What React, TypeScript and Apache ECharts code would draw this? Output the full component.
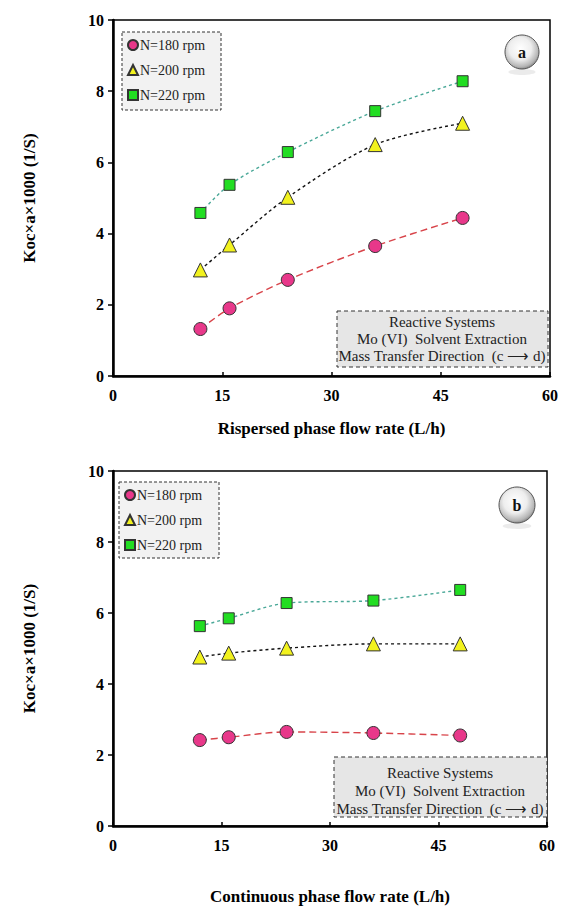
import React, { useEffect, useRef } from "react";
import * as echarts from "echarts";

const X_VALUES = [12, 16, 24, 36, 48];
const SERIES_NAMES = ["N=180 rpm", "N=200 rpm", "N=220 rpm"];
const A_180 = [1.32, 1.9, 2.7, 3.65, 4.44];
const A_200 = [2.98, 3.68, 5.02, 6.5, 7.1];
const A_220 = [4.58, 5.37, 6.29, 7.44, 8.28];
const B_180 = [2.42, 2.5, 2.65, 2.62, 2.55];
const B_200 = [4.76, 4.87, 5.01, 5.13, 5.13];
const B_220 = [5.63, 5.85, 6.28, 6.35, 6.65];
const X_TITLES = ["Rispersed phase flow rate (L/h)", "Continuous phase flow rate (L/h)"];
const Y_TITLE = "Koc×a×1000 (1/S)";
const NOTE_LINES = ["Reactive Systems", "Mo (VI)  Solvent Extraction", "Mass Transfer Direction  (c \u27F6 d)"];
const BADGES = ["a", "b"];

const SERIF = "Liberation Serif";

const STYLES = [
  { symbol: "circle", size: 13, fill: "#e8388a", line: "#d8444a", dash: [7, 4] },
  { symbol: "triangle", size: 14, fill: "#f2f21e", line: "#111111", dash: [3, 3] },
  { symbol: "rect", size: 11, fill: "#22dd22", line: "#4aa898", dash: [3, 3] },
];

export default function App() {
  const ref = useRef<HTMLDivElement>(null);
  useEffect(() => {
    document.body.style.margin = "0";
    const chart = echarts.init(ref.current!, null, { renderer: "svg" });
    const grids = [
      { left: 113, top: 20, width: 438, height: 356 },
      { left: 113, top: 471, width: 434, height: 355 },
    ];
    const dataSets = [
      [A_180, A_200, A_220],
      [B_180, B_200, B_220],
    ];
    const series: any[] = [];
    dataSets.forEach((sets, gi) => {
      sets.forEach((vals, si) => {
        const st = STYLES[si];
        series.push({
          type: "line",
          name: SERIES_NAMES[si],
          xAxisIndex: gi,
          yAxisIndex: gi,
          data: X_VALUES.map((x, i) => [x, vals[i]]),
          smooth: 0.3,
          symbol: st.symbol,
          symbolSize: st.size,
          itemStyle: { color: st.fill, borderColor: "#333", borderWidth: 1 },
          lineStyle: { color: st.line, width: 1.4, type: st.dash },
          z: 3 + si,
        });
      });
    });
    const axisLabel = { fontFamily: SERIF, fontWeight: "bold", fontSize: 16, color: "#000" };
    const option: any = {
      animation: false,
      textStyle: { fontFamily: SERIF },
      grid: grids.map((g) => ({ ...g, show: true, borderColor: "#000", borderWidth: 1.5, backgroundColor: "transparent" })),
      xAxis: grids.map((_, gi) => ({
        type: "value",
        gridIndex: gi,
        min: 0,
        max: 60,
        interval: 15,
        axisLine: { show: true, onZero: false, lineStyle: { color: "#000", width: 2.5 } },
        axisTick: { show: true, inside: true, length: 4, lineStyle: { color: "#000", width: 1.5 } },
        axisLabel: { ...axisLabel, margin: 11 },
        splitLine: { show: false },
        name: X_TITLES[gi],
        nameLocation: "middle",
        nameGap: gi === 0 ? 44 : 62,
        nameTextStyle: { fontFamily: SERIF, fontWeight: "bold", fontSize: 17, color: "#000" },
      })),
      yAxis: grids.map((_, gi) => ({
        type: "value",
        gridIndex: gi,
        min: 0,
        max: 10,
        interval: 2,
        axisLine: { show: true, onZero: false, lineStyle: { color: "#000", width: 2.5 } },
        axisTick: { show: true, inside: false, length: 5, lineStyle: { color: "#000", width: 1.5 } },
        axisLabel: { ...axisLabel, margin: 9 },
        splitLine: { show: false },
        name: Y_TITLE,
        nameLocation: "middle",
        nameGap: 75,
        nameTextStyle: { fontFamily: SERIF, fontWeight: "bold", fontSize: 17, color: "#000" },
      })),
      legend: [
        { left: 127, top: 38 },
        { left: 124, top: 488 },
      ].map((p) => ({
        ...p,
        orient: "vertical",
        itemGap: 11,
        itemWidth: 10,
        itemHeight: 10,
        padding: 0,
        selectedMode: false,
        textStyle: { fontFamily: SERIF, fontSize: 14, color: "#222", padding: [0, 0, 0, -3] },
        data: SERIES_NAMES.map((n, i) => ({ name: n, icon: STYLES[i].symbol })),
      })),
      series,
      graphic: [
        // legend boxes
        { type: "rect", z: 1, shape: { x: 122, y: 32, width: 99, height: 78 }, style: { fill: "#f2f2f2", stroke: "#333", lineWidth: 1, lineDash: [3, 2] } },
        { type: "rect", z: 1, shape: { x: 119, y: 482, width: 100, height: 76 }, style: { fill: "#f2f2f2", stroke: "#333", lineWidth: 1, lineDash: [3, 2] } },
        // note boxes
        { type: "rect", z: 1, shape: { x: 337, y: 311, width: 211, height: 56 }, style: { fill: "#e6e6e6", stroke: "#333", lineWidth: 1, lineDash: [4, 3] } },
        { type: "rect", z: 1, shape: { x: 334, y: 757, width: 213, height: 60 }, style: { fill: "#e6e6e6", stroke: "#333", lineWidth: 1, lineDash: [4, 3] } },
        ...NOTE_LINES.map((t, i) => ({
          type: "text", z: 5, x: 442, y: 322 + i * 17,
          style: { text: t, fill: "#222", fontFamily: SERIF, fontSize: 15, textAlign: "center", textVerticalAlign: "middle" },
        })),
        ...NOTE_LINES.map((t, i) => ({
          type: "text", z: 5, x: 440, y: 773 + i * 18,
          style: { text: t, fill: "#222", fontFamily: SERIF, fontSize: 15, textAlign: "center", textVerticalAlign: "middle" },
        })),
        // badges
        ...[
          { cx: 522, cy: 52, r: 17 },
          { cx: 517, cy: 505, r: 18 },
        ].flatMap((b, i) => [
          {
            type: "ellipse", z: 1,
            shape: { cx: b.cx, cy: b.cy + b.r + 3, rx: b.r * 0.8, ry: 3 },
            style: { fill: "rgba(0,0,0,0.08)" },
          },
          {
            type: "circle", z: 2,
            shape: { cx: b.cx, cy: b.cy, r: b.r },
            style: {
              fill: {
                type: "radial", x: 0.45, y: 0.4, r: 0.65,
                colorStops: [
                  { offset: 0, color: "#ffffff" },
                  { offset: 0.5, color: "#eeeeee" },
                  { offset: 0.82, color: "#b5b5b5" },
                  { offset: 1, color: "#6e6e6e" },
                ],
              },
              stroke: "#555",
              lineWidth: 1,
            },
          },
          {
            type: "text", z: 3, x: b.cx, y: b.cy,
            style: { text: BADGES[i], fill: "#111", fontFamily: SERIF, fontWeight: "bold", fontSize: 16, textAlign: "center", textVerticalAlign: "middle" },
          },
        ]),
      ],
    };
    chart.setOption(option);
    return () => chart.dispose();
  }, []);
  return <div ref={ref} style={{ width: 561, height: 908 }} />;
}
